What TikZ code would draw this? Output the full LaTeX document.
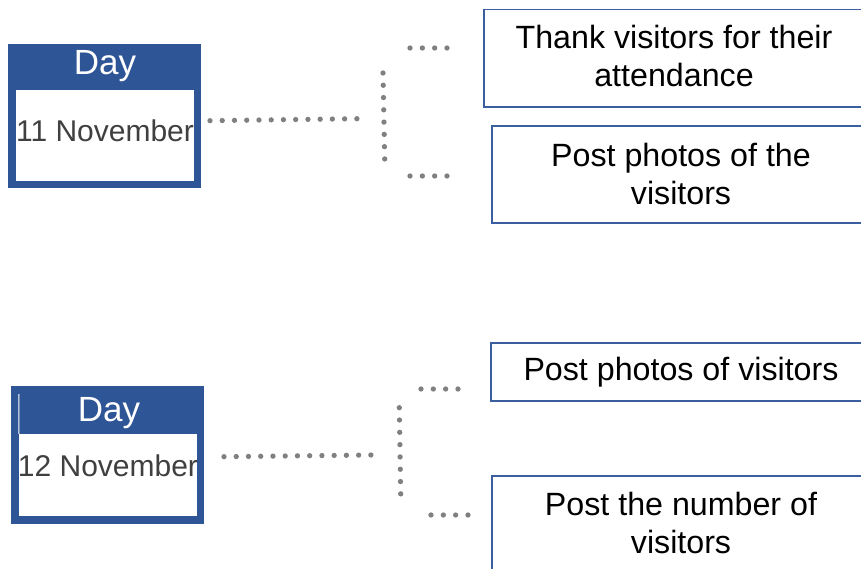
\documentclass[tikz,border=0pt]{standalone}
\usepackage{fontspec}
\setmainfont{Liberation Sans}
\definecolor{dayblue}{HTML}{2E5596}
\definecolor{boxblue}{HTML}{3A5E9E}
\definecolor{dotgray}{HTML}{808080}
\definecolor{dategray}{HTML}{404040}
\begin{document}
\begin{tikzpicture}[x=1pt,y=-1pt,
  dayouter/.style={fill=dayblue, draw=none, inner sep=0pt},
  dayinner/.style={fill=white, draw=none, inner sep=0pt},
  daytext/.style={inner sep=0pt, anchor=base, text=white, font=\fontsize{35}{40}\selectfont},
  datetext/.style={inner sep=0pt, anchor=base, text=dategray, font=\fontsize{30}{36}\selectfont},
  taskbox/.style={draw=boxblue, line width=1.5pt, fill=none, inner sep=0pt},
  tasktext/.style={inner sep=0pt, align=center, text=black, font=\fontsize{32.2}{38}\selectfont},
  dotrow/.style={draw=dotgray, line width=5.3pt, line cap=round, dash pattern=on 0pt off #1}]
\useasboundingbox (0,0) rectangle (861,569);
\clip (0,0) rectangle (861,569);

% Day 11
\node[dayouter, minimum width=193pt, minimum height=144pt] (day1) at (104.5,116) {};
\node[dayinner, minimum width=178pt, minimum height=91pt] (date1) at (105,135.5) {};
\node[daytext] (dayA) at (105,75) {Day};
\node[datetext] (dateA) at (105,141.5) {11 November};

% Day 12
\node[dayouter, minimum width=193pt, minimum height=138pt] (day2) at (107.5,455) {};
\node[dayinner, minimum width=178pt, minimum height=82pt] (date2) at (108,475) {};
\draw[white, line width=1pt] (19,394) -- (date2.north west);
\node[daytext] (dayB) at (109,421.5) {Day};
\node[datetext] (dateB) at (108,476.5) {12 November};

% task boxes
\node[taskbox, minimum width=416pt, minimum height=97.5pt] (boxA) at (692,58.25) {};
\node[taskbox, minimum width=408pt, minimum height=97pt] (boxB) at (696,174.5) {};
\node[taskbox, minimum width=409pt, minimum height=58pt] (boxC) at (695.5,372) {};
\node[taskbox, minimum width=408pt, minimum height=144pt] (boxD) at (696,548) {};

\node[tasktext, anchor=north] (tA) at (674,25) {Thank visitors for their\\attendance};
\node[tasktext, anchor=north] (tB) at (681,143) {Post photos of the\\visitors};
\node[tasktext, anchor=base] (tC) at (681,380) {Post photos of visitors};
\node[tasktext, anchor=north] (tD) at (681,492) {Post the number of\\visitors};

% connectors, day 11
\coordinate (h1a) at (210,120.7);
\coordinate (h1b) at (357,118.7);
\coordinate (v1a) at (383,73);
\coordinate (v1b) at (384.7,159);
\coordinate (t1a) at (410,48);
\coordinate (t1b) at (447,48);
\coordinate (b1a) at (410,176);
\coordinate (b1b) at (447,176);
\draw[dotrow=12.24pt] (h1a) -- (h1b);
\draw[dotrow=12.28pt] (v1a) -- (v1b);
\draw[dotrow=12.32pt] (t1a) -- (t1b);
\draw[dotrow=12.32pt] (b1a) -- (b1b);

% connectors, day 12
\coordinate (h2a) at (224,456.7);
\coordinate (h2b) at (371,455);
\coordinate (v2a) at (399.3,407.7);
\coordinate (v2b) at (400.7,494);
\coordinate (t2a) at (421,389);
\coordinate (t2b) at (458,389);
\coordinate (b2a) at (431,515);
\coordinate (b2b) at (468,515);
\draw[dotrow=12.24pt] (h2a) -- (h2b);
\draw[dotrow=12.31pt] (v2a) -- (v2b);
\draw[dotrow=12.32pt] (t2a) -- (t2b);
\draw[dotrow=12.32pt] (b2a) -- (b2b);
\end{tikzpicture}
\end{document}
